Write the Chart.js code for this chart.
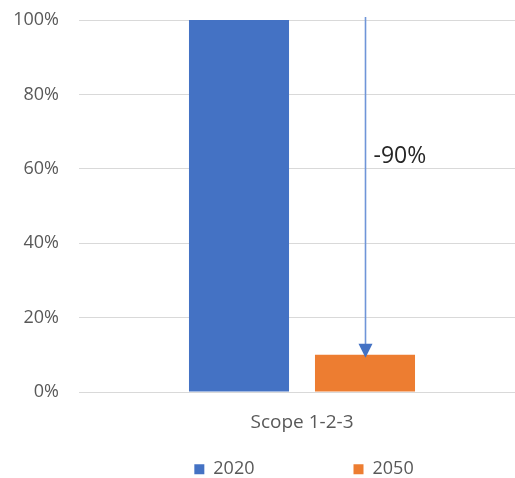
<!DOCTYPE html>
<html>
<head>
<meta charset="utf-8">
<script src="https://cdn.jsdelivr.net/npm/chart.js@4/dist/chart.umd.min.js"></script>
<style>
  html, body { margin: 0; padding: 0; background: #fff; overflow: hidden; }
  #wrap { width: 515px; height: 478px; overflow: hidden; }
  #box { width: 525px; height: 478px; }
</style>
</head>
<body>
<div id="wrap"><div id="box"><canvas id="c"></canvas></div></div>
<script>
// Emissions relative to the 2020 baseline
const categories = ['Scope 1-2-3'];
const years = ['2020', '2050'];
const values2020 = [100];
const values2050 = [10];
const yTicks = [0, 20, 40, 60, 80, 100];

const FONT = '"Open Sans", "Liberation Sans", sans-serif';
const GREY = '#595959';
const LEGEND_GAP = 99;

// Arrow from the 2020 level down to the 2050 level, with the change written beside it
const reductionArrow = {
  id: 'reductionArrow',
  afterDatasetsDraw(chart) {
    const y = chart.scales.y;
    const bar = chart.getDatasetMeta(1).data[0];
    if (!bar) return;
    const from = values2020[0], to = values2050[0];
    const x = Math.round(bar.x) + 0.5;
    const yStart = y.getPixelForValue(from) - 3;
    const yTip = y.getPixelForValue(to) + 3;
    const ctx = chart.ctx;
    ctx.save();
    ctx.strokeStyle = '#6f95d8';
    ctx.lineWidth = 1.6;
    ctx.beginPath();
    ctx.moveTo(x, yStart);
    ctx.lineTo(x, yTip - 12);
    ctx.stroke();
    ctx.fillStyle = '#4472C4';
    ctx.beginPath();
    ctx.moveTo(x - 7, yTip - 14);
    ctx.lineTo(x + 7, yTip - 14);
    ctx.lineTo(x, yTip);
    ctx.closePath();
    ctx.fill();
    const change = Math.round((to - from) / from * 100);
    ctx.fillStyle = '#262626';
    ctx.font = '23px ' + FONT;
    ctx.textAlign = 'left';
    ctx.textBaseline = 'middle';
    ctx.fillText((change > 0 ? '+' : '') + change + '%', x + 8, y.getPixelForValue(63.2));
    ctx.restore();
  }
};

// Centre the legend under the plot area and keep its row near the bottom edge
const legendPlace = {
  id: 'legendPlace',
  afterLayout(chart) {
    const lg = chart.legend;
    if (!lg) return;
    const area = chart.chartArea;
    const mid = (area.left + area.right) / 2 + 2;
    const d = mid - (lg.left + lg.right) / 2;
    lg.left += d;
    lg.right += d;
    // rows are drawn one label padding below the box top
    const rowCentre = chart.height - 7;
    const itemH = 18 * 1.2;
    lg.top = rowCentre - itemH / 2 - LEGEND_GAP;
    lg.bottom = chart.height;
  }
};

new Chart(document.getElementById('c'), {
  type: 'bar',
  data: {
    labels: categories,
    datasets: [
      { label: years[0], data: values2020, backgroundColor: '#4472C4' },
      { label: years[1], data: values2050, backgroundColor: '#ED7D31' }
    ]
  },
  options: {
    responsive: true,
    maintainAspectRatio: false,
    animation: false,
    categoryPercentage: 0.565,
    barPercentage: 0.794,
    layout: { padding: { top: 20, left: 0, right: 0, bottom: 0 } },
    scales: {
      x: {
        grid: { display: false, drawTicks: false },
        border: { display: false },
        ticks: { color: GREY, font: { family: FONT, size: 19 }, padding: 19 },
        afterFit(s) { s.height = 41; s.paddingLeft = 0; s.paddingRight = 0; }
      },
      y: {
        min: 0,
        max: 100,
        afterBuildTicks(s) { s.ticks = yTicks.map(v => ({ value: v })); },
        afterFit(s) { s.width = 79; s.paddingTop = 0; s.paddingBottom = 0; },
        grid: { color: '#d9d9d9', lineWidth: 1, drawTicks: false },
        border: { display: false },
        ticks: {
          color: GREY,
          font: { family: FONT, size: 18 },
          padding: 20,
          callback: v => v + '%'
        }
      }
    },
    plugins: {
      legend: {
        position: 'bottom',
        maxHeight: 45,
        labels: {
          color: GREY,
          font: { family: FONT, size: 18 },
          boxWidth: 10,
          boxHeight: 10,
          padding: LEGEND_GAP
        }
      },
      tooltip: { enabled: false }
    }
  },
  plugins: [reductionArrow, legendPlace]
});
</script>
</body>
</html>
